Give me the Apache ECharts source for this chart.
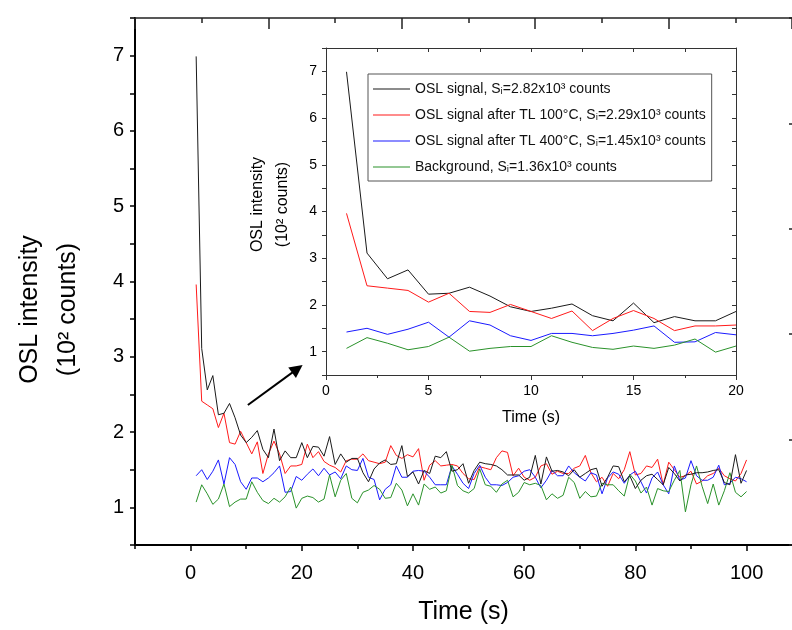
<!DOCTYPE html>
<html><head><meta charset="utf-8">
<script src="https://cdn.jsdelivr.net/npm/echarts@6/dist/echarts.min.js"></script>
<style>html,body{margin:0;padding:0;background:#fff}#c{width:792px;height:630px}</style>
</head><body><div id="c"></div>
<script>
// ---------------- data ----------------
const time = [1,2,3,4,5,6,7,8,9,10,11,12,13,14,15,16,17,18,19,20,
  21,22,23,24,25,26,27,28,29,30,31,32,33,34,35,36,37,38,39,40,
  41,42,43,44,45,46,47,48,49,50,51,52,53,54,55,56,57,58,59,60,
  61,62,63,64,65,66,67,68,69,70,71,72,73,74,75,76,77,78,79,80,
  81,82,83,84,85,86,87,88,89,90,91,92,93,94,95,96,97,98,99,100];

const oslSignal = [6.99,3.11,2.56,2.75,2.23,2.25,2.38,2.19,1.96,1.86,
  1.93,2.02,1.77,1.66,2.04,1.62,1.75,1.66,1.66,1.86,
  1.66,1.81,1.80,1.68,1.94,1.57,1.71,1.60,1.65,1.65,
  1.46,1.34,1.51,1.59,1.63,1.57,1.58,1.82,1.41,1.47,
  1.31,1.49,1.45,1.68,1.66,1.74,1.48,1.50,1.58,1.32,
  1.49,1.60,1.58,1.57,1.55,1.50,1.43,1.43,1.43,1.36,
  1.40,1.69,1.31,1.67,1.48,1.49,1.47,1.42,1.50,1.40,
  1.45,1.50,1.52,1.28,1.40,1.55,1.54,1.34,1.42,1.25,
  1.36,1.42,1.44,1.37,1.30,1.53,1.45,1.35,1.43,1.44,
  1.46,1.46,1.47,1.49,1.50,1.33,1.30,1.70,1.32,1.49];

const oslAfterTL100 = [3.96,2.41,2.36,2.31,2.06,2.25,1.86,1.84,2.01,1.86,
  1.71,1.87,1.45,1.71,1.88,1.71,1.45,1.55,1.55,1.57,
  1.84,1.66,1.74,1.61,1.56,1.53,1.47,1.62,1.64,1.64,
  1.71,1.62,1.60,1.58,1.60,1.82,1.69,1.65,1.70,1.67,
  1.78,1.36,1.56,1.62,1.55,1.56,1.57,1.55,1.45,1.38,
  1.37,1.54,1.52,1.50,1.66,1.75,1.73,1.42,1.52,1.40,
  1.36,1.40,1.55,1.58,1.44,1.48,1.45,1.45,1.52,1.55,
  1.69,1.46,1.34,1.40,1.28,1.45,1.38,1.50,1.74,1.43,
  1.45,1.55,1.53,1.64,1.30,1.60,1.50,1.40,1.42,1.48,
  1.31,1.35,1.42,1.45,1.52,1.42,1.38,1.35,1.45,1.63];

const oslAfterTL400 = [1.42,1.50,1.37,1.48,1.63,1.31,1.66,1.57,1.34,1.24,
  1.39,1.39,1.34,1.39,1.46,1.55,1.20,1.21,1.41,1.36,
  1.44,1.51,1.42,1.52,1.43,1.47,1.38,1.55,1.50,1.49,
  1.65,1.40,1.37,1.10,1.24,1.30,1.55,1.40,1.40,1.48,
  1.49,1.48,1.40,1.30,1.30,1.30,1.55,1.44,1.32,1.25,
  1.45,1.56,1.40,1.30,1.30,1.29,1.33,1.40,1.42,1.48,
  1.50,1.40,1.26,1.36,1.49,1.42,1.42,1.55,1.46,1.40,
  1.35,1.46,1.43,1.18,1.39,1.47,1.44,1.32,1.43,1.48,
  1.34,1.19,1.39,1.47,1.30,1.18,1.55,1.36,1.39,1.62,
  1.42,1.36,1.36,1.40,1.56,1.30,1.32,1.40,1.38,1.34];

const background = [1.07,1.30,1.18,1.04,1.11,1.31,1.01,1.07,1.11,1.11,
  1.34,1.20,1.09,1.05,1.12,1.07,1.14,1.27,0.99,1.12,
  1.15,1.13,1.07,1.11,1.43,1.14,1.36,1.45,1.12,1.06,
  1.20,1.23,1.29,1.24,1.12,1.13,1.32,1.23,1.02,1.18,
  1.03,1.31,1.24,1.27,1.19,1.22,1.56,1.29,1.22,1.19,
  1.25,1.51,1.30,1.28,1.20,1.31,1.36,1.14,1.20,1.33,
  1.30,1.32,1.29,1.10,1.18,1.12,1.16,1.40,1.33,1.12,
  1.21,1.14,1.15,1.32,1.30,1.30,1.22,1.15,1.44,1.35,
  1.19,1.27,1.03,1.25,1.22,1.21,1.36,1.49,0.94,1.30,
  1.55,1.28,1.05,1.31,1.03,1.22,1.46,1.20,1.14,1.21];

const seriesNames = [
  'OSL signal, S\u1D62=2.82x10\u00B3 counts',
  'OSL signal after TL 100\u00B0C, S\u1D62=2.29x10\u00B3 counts',
  'OSL signal after TL 400\u00B0C, S\u1D62=1.45x10\u00B3 counts',
  'Background, S\u1D62=1.36x10\u00B3 counts'
];
const seriesColors = ['#1a1a1a', '#ff1a1a', '#1a1aff', '#2a922a'];

const mainXTickLabels = [0, 20, 40, 60, 80, 100];
const mainXMinorTicks = [-10, 10, 30, 50, 70, 90];
const mainYTickLabels = [1, 2, 3, 4, 5, 6, 7];
const insetYTickLabels = [1, 2, 3, 4, 5, 6, 7];
const insetPoints = 20;           // inset shows the first 20 s
const arrowStart = [10.3, 2.36];  // annotation arrow (data coords of main plot)
const arrowEnd = [19.2, 2.84];

// ---------------- chart ----------------
const FONT = '"Liberation Sans", Arial, Helvetica, sans-serif';
const valueSets = [oslSignal, oslAfterTL100, oslAfterTL400, background];

const chart = echarts.init(document.getElementById('c'), null, {renderer: 'canvas'});

const series = [];
valueSets.forEach((vals, i) => {
  const s = {
    type: 'line', name: seriesNames[i], xAxisIndex: 0, yAxisIndex: 0,
    data: time.map((t, k) => [t, vals[k]]),
    symbol: 'none', showSymbol: false, silent: true,
    color: seriesColors[i],
    lineStyle: {width: 1, color: seriesColors[i]},
    z: 3 + (i === 0 ? 1 : 0)
  };
  if (i === 0) {
    s.markLine = {
      silent: true, symbol: ['none', 'triangle'], symbolSize: 13,
      label: {show: false},
      lineStyle: {color: '#000', width: 2, type: 'solid'},
      emphasis: {disabled: true},
      data: [[{coord: arrowStart}, {coord: arrowEnd}]]
    };
  }
  series.push(s);
});
valueSets.forEach((vals, i) => {
  series.push({
    type: 'line', name: seriesNames[i], xAxisIndex: 3, yAxisIndex: 2,
    data: time.slice(0, insetPoints).map((t, k) => [t, vals[k]]),
    symbol: 'none', showSymbol: false, silent: true,
    color: seriesColors[i],
    lineStyle: {width: 1, color: seriesColors[i]},
    z: 3
  });
});

const axisTxt = {color: '#000', fontFamily: FONT};

const option = {
  animation: false,
  backgroundColor: '#fff',
  grid: [
    {left: 135, top: 18, right: 0, height: 529},
    {left: 326, top: 48, width: 410, height: 327}
  ],
  legend: {
    show: true,
    data: seriesNames,
    orient: 'vertical',
    left: 368, top: 74,
    padding: [8, 6, 7, 5],
    itemGap: 12,
    itemWidth: 37, itemHeight: 1.2,
    icon: 'rect',
    borderColor: '#555', borderWidth: 1, borderRadius: 0,
    backgroundColor: '#fff',
    selectedMode: false,
    textStyle: {fontSize: 14, color: '#111', fontFamily: FONT}
  },
  xAxis: [
    { // main bottom (plot frame continues past the right edge of the picture)
      gridIndex: 0, type: 'value', position: 'bottom', min: -10, max: 108.17,
      axisLine: {show: true, onZero: false, lineStyle: {color: '#000', width: 2}},
      axisTick: {show: true, customValues: mainXTickLabels, length: 6, lineStyle: {color: '#000', width: 1.5}},
      axisLabel: {customValues: mainXTickLabels, fontSize: 20, margin: 18, ...axisTxt},
      splitLine: {show: false},
      name: 'Time (s)', nameLocation: 'middle', nameGap: 55,
      nameTextStyle: {fontSize: 25, ...axisTxt}
    },
    { // main bottom minor ticks
      gridIndex: 0, type: 'value', position: 'bottom', min: -10, max: 108.17,
      axisLine: {show: false, onZero: false},
      axisTick: {show: true, customValues: mainXMinorTicks, length: 4, lineStyle: {color: '#000', width: 1.5}},
      axisLabel: {show: false}, splitLine: {show: false}
    },
    { // main top frame
      gridIndex: 0, type: 'value', position: 'top', min: 0, max: 9.85, interval: 2,
      axisLine: {show: true, onZero: false, lineStyle: {color: '#222', width: 1.5}},
      axisTick: {show: true, inside: true, length: 11, lineStyle: {color: '#222', width: 1.5}},
      minorTick: {show: true, splitNumber: 2, length: 5, lineStyle: {color: '#222', width: 1.5}},
      axisLabel: {show: false}, splitLine: {show: false}
    },
    { // inset bottom
      gridIndex: 1, type: 'value', position: 'bottom', min: 0, max: 20, interval: 5,
      axisLine: {show: true, onZero: false, lineStyle: {color: '#333', width: 1}},
      axisTick: {show: true, length: 5, lineStyle: {color: '#333'}},
      minorTick: {show: true, splitNumber: 2, length: 3, lineStyle: {color: '#333'}},
      axisLabel: {fontSize: 14, margin: 9, ...axisTxt},
      splitLine: {show: false},
      name: 'Time (s)', nameLocation: 'middle', nameGap: 35,
      nameTextStyle: {fontSize: 16, ...axisTxt}
    },
    { // inset top
      gridIndex: 1, type: 'value', position: 'top', min: 0, max: 20, interval: 2.5,
      axisLine: {show: true, onZero: false, lineStyle: {color: '#333', width: 1}},
      axisTick: {show: true, inside: true, length: 4, lineStyle: {color: '#333'}},
      axisLabel: {show: false}, splitLine: {show: false}
    }
  ],
  yAxis: [
    { // main left
      gridIndex: 0, type: 'value', position: 'left', min: 0.5, max: 7.5, interval: 0.5,
      axisLine: {show: true, onZero: false, lineStyle: {color: '#000', width: 2}},
      axisTick: {show: true, length: 5, lineStyle: {color: '#000', width: 1.5}},
      axisLabel: {customValues: mainYTickLabels, fontSize: 20, margin: 11, ...axisTxt},
      splitLine: {show: false},
      name: 'OSL intensity\n(10\u00B2 counts)', nameLocation: 'middle', nameRotate: 90, nameGap: 48,
      nameTextStyle: {fontSize: 25, lineHeight: 38, padding: [0, 56, 0, 0], ...axisTxt}
    },
    { // main right frame (its line lies just past the picture edge; only tick stubs show)
      gridIndex: 0, type: 'value', position: 'right', min: 0, max: 5, interval: 1,
      axisLine: {show: false, onZero: false},
      axisTick: {show: true, inside: true, length: 3, lineStyle: {color: '#222', width: 1.5}},
      axisLabel: {show: false}, splitLine: {show: false}
    },
    { // inset left
      gridIndex: 1, type: 'value', position: 'left', min: 0.5, max: 7.5, interval: 0.5,
      axisLine: {show: true, onZero: false, lineStyle: {color: '#333', width: 1}},
      axisTick: {show: true, length: 4, lineStyle: {color: '#333'}},
      axisLabel: {customValues: insetYTickLabels, fontSize: 14, margin: 9, ...axisTxt},
      splitLine: {show: false},
      name: 'OSL intensity\n(10\u00B2 counts)', nameLocation: 'middle', nameRotate: 90, nameGap: 31,
      nameTextStyle: {fontSize: 16, lineHeight: 25, padding: [0, 0, 0, 14], ...axisTxt}
    },
    { // inset right
      gridIndex: 1, type: 'value', position: 'right', min: 0.5, max: 7.5, interval: 0.5,
      axisLine: {show: true, onZero: false, lineStyle: {color: '#333', width: 1}},
      axisTick: {show: true, inside: true, length: 4, lineStyle: {color: '#333'}},
      axisLabel: {show: false}, splitLine: {show: false}
    }
  ],
  series: series
};
chart.setOption(option);
</script>
</body></html>
